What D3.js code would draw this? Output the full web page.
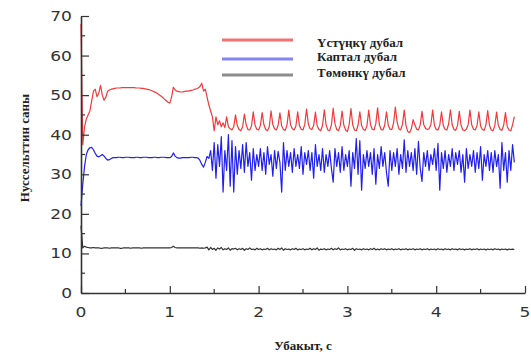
<!DOCTYPE html>
<html>
<head>
<meta charset="utf-8">
<script src="https://cdn.jsdelivr.net/npm/d3@7"></script>
<style>
html,body{margin:0;padding:0;background:#fff;}
svg{display:block;}
</style>
</head>
<body>
<svg id="chart" width="531" height="354"></svg>
<script>
// ---- data ----
const seriesNames = ["Үстүңкү дубал", "Каптал дубал", "Төмөнкү дубал"];
const xTicks = [0, 1, 2, 3, 4, 5];
const yTicks = [0, 10, 20, 30, 40, 50, 60, 70];
const xTitle = "Убакыт, с";
const yTitle = "Нуссельттин саны";
const sampleStep = 0.02; // seconds between samples

const upperWall = [
 68, 37.5, 42, 44, 45, 46, 48.5, 51, 51.5, 49.6,
 50.5, 52.5, 50, 48.7, 49.5, 51, 51.3, 51.5, 51.6, 51.7,
 51.8, 51.8, 51.8, 51.9, 51.9, 51.9, 51.9, 51.9, 51.9, 51.9,
 51.9, 51.8, 51.8, 51.8, 51.7, 51.7, 51.6, 51.5, 51.4, 51.3,
 51.1, 50.9, 50.7, 50.4, 50.1, 49.8, 49.4, 49, 48.6, 48.2,
 48, 49.5, 52, 51.3, 51, 50.9, 50.8, 50.8, 50.9, 51,
 51, 51.1, 51.2, 51.3, 51.5, 51.6, 51.8, 52.2, 53, 51,
 51.5, 49.5, 47.5, 46, 44.5, 41, 44.5, 42.5, 43.5, 42,
 43, 41.8, 44.5, 42, 41.5, 41.2, 42, 45, 42.3, 41.3,
 41, 42, 45.2, 42.5, 41.3, 41.2, 42.2, 45.8, 42.4, 41.4,
 41.2, 42.3, 45.6, 42.5, 41.3, 41, 42, 46, 42.6, 41.5,
 41.2, 42.4, 45.5, 42.2, 41.3, 41.1, 42.5, 46.2, 42.5, 41.5,
 41.2, 42.2, 45.8, 42.3, 41.4, 41.2, 42.6, 46.5, 42.7, 41.5,
 41.3, 42.3, 45.7, 42.2, 41.3, 41, 42.4, 46.3, 42.5, 41.2,
 41, 42.5, 46.7, 42.8, 41.3, 41, 42.3, 46, 42.4, 41.2,
 40.8, 42.6, 46.6, 42.5, 41.2, 41, 42.4, 45.8, 42.3, 41.3,
 41.1, 42.2, 46.2, 42.6, 41.4, 41.2, 42.8, 46.8, 42.5, 41.3,
 41.2, 42.4, 45.8, 42.4, 41.4, 41.3, 43, 47, 43.2, 41.5,
 41.2, 42.6, 46.2, 42.3, 40.8, 40.5, 41.5, 43.8, 42.5, 41.4,
 41.2, 42.5, 45.9, 42.5, 41.6, 41.3, 41.5, 42.5, 46.2, 42.4,
 41.3, 41.2, 42.4, 45.8, 42.3, 41.4, 41.2, 42.7, 46.3, 42.5,
 41.3, 41.1, 42.3, 45.9, 42.4, 41.2, 41, 41.4, 42.6, 46.2,
 42.5, 41.4, 41.2, 42.3, 45.8, 42.2, 41.3, 41.1, 42.5, 46.1,
 42.4, 41.2, 41, 42.3, 45.7, 42.3, 41.3, 41.1, 42.4, 45.6,
 42.1, 41.2, 41, 42.5, 44.6
];

const sideWall = [
 22, 27.5, 32, 35, 36.2, 36.7, 36.8, 36.2, 35.3, 34.6,
 34.4, 34.7, 35, 34.6, 34, 33.6, 33.7, 34, 34.2, 34.2,
 34.2, 34.3, 34.3, 34.2, 34.2, 34.3, 34.3, 34.3, 34.2, 34.2,
 34.2, 34.3, 34.3, 34.2, 34.2, 34.3, 34.3, 34.3, 34.2, 34.2,
 34.2, 34.3, 34.3, 34.2, 34.2, 34.3, 34.3, 34.3, 34.2, 34.2,
 34.2, 34.5, 35.4, 34.6, 34.2, 34.1, 34.1, 34.2, 34.2, 34.2,
 34.2, 34.2, 34.3, 34.3, 34.2, 34.2, 34.1, 33.5, 32.5, 31.8,
 33, 34.5, 34, 36, 31, 38, 29, 37.5, 32, 39.5,
 25.5, 36, 31, 40, 27, 38.5, 25.5, 37, 30, 36,
 31.5, 37.5, 30.5, 38, 32, 35.5, 28.5, 36.5, 31, 35,
 32, 36.5, 31, 35.5, 30, 37, 32.5, 35, 29.5, 36,
 31.5, 35.8, 33, 25.5, 38, 31, 36, 32, 35.5, 30.5,
 36.5, 32, 35, 31.5, 37, 30, 35.5, 32.5, 36, 31,
 35.5, 29, 37.5, 32, 35, 31, 36.5, 30.5, 35, 32,
 36, 31.5, 28, 36.5, 32, 35.5, 30.5, 37, 31, 35,
 32, 36, 27, 35.5, 31.5, 39, 30, 38.5, 26, 35,
 31.5, 36, 32, 35.5, 30, 36.5, 27.5, 35, 31.5, 37,
 32, 35.5, 30.5, 27, 36, 31, 35.5, 32, 36.5, 30,
 35, 31.5, 38.7, 30.5, 36, 32, 35.5, 31, 36.5, 30,
 38.3, 31.5, 28.2, 35.5, 32, 36, 31, 35, 32.5, 36.5,
 31, 37.8, 26, 35.5, 31.5, 36, 30.5, 35, 32, 36.5,
 31, 35.5, 32.5, 36, 30.5, 35, 28, 36.5, 31.5, 35,
 32, 36, 30.5, 35.5, 31.5, 37, 28.5, 35, 32, 36,
 31, 35.5, 30.5, 36, 32, 35, 26.5, 38, 31, 35.5,
 28, 36, 31, 37.5, 33
];

const lowerWall = [
 17, 11.4, 11.8, 11.6, 11.5, 11.4, 11.4, 11.5, 11.4, 11.4,
 11.4, 11.3, 11.3, 11.4, 11.4, 11.4, 11.3, 11.4, 11.4, 11.4,
 11.4, 11.4, 11.3, 11.3, 11.4, 11.4, 11.4, 11.4, 11.3, 11.4,
 11.4, 11.4, 11.4, 11.4, 11.3, 11.4, 11.4, 11.4, 11.4, 11.4,
 11.4, 11.4, 11.4, 11.4, 11.4, 11.4, 11.4, 11.4, 11.4, 11.4,
 11.4, 11.5, 11.8, 11.5, 11.4, 11.4, 11.4, 11.4, 11.4, 11.4,
 11.4, 11.4, 11.4, 11.4, 11.4, 11.4, 11.4, 11.3, 11.4, 11.3,
 11.4, 11.6, 10.9, 11.5, 11, 11.3, 10.8, 11.4, 11.1, 11.5,
 10.9, 11.2, 11, 11.4, 10.8, 11.2, 11.1, 11.3, 10.9, 11.2,
 11, 11.3, 10.8, 11.2, 11, 11.4, 11, 11.1, 10.9, 11.3,
 11, 11.2, 10.9, 11.1, 11, 11.3, 10.9, 11.2, 11, 11.1,
 10.9, 11.3, 11, 11.4, 10.8, 11.2, 11, 11.1, 10.9, 11.2,
 11, 11.3, 10.9, 11.1, 11, 11.2, 10.9, 11.1, 11, 11.3,
 10.9, 11.2, 11, 11.4, 10.8, 11.1, 11, 11.2, 10.9, 11.1,
 11, 11.3, 10.9, 11.2, 11, 11.4, 10.9, 11.1, 11, 11.2,
 10.9, 11.1, 11, 11.3, 10.8, 11.2, 11, 11.1, 10.9, 11.2,
 11, 11.1, 10.9, 11.2, 11, 11.3, 10.9, 11.1, 10.9, 11.2,
 11, 11.2, 10.9, 11.1, 11, 11.2, 10.9, 11.1, 11, 11.2,
 10.9, 11.1, 11, 11.2, 10.9, 11.1, 11, 11.2, 10.9, 11.1,
 11, 11.2, 10.9, 11.1, 11, 11.2, 10.9, 11.1, 11, 11.1,
 10.9, 11.2, 11, 11.1, 10.9, 11.2, 11, 11.1, 10.9, 11.2,
 11, 11.1, 10.9, 11.2, 11, 11.1, 10.9, 11.1, 11, 11.2,
 10.9, 11.1, 11, 11.2, 10.9, 11.1, 11, 11.1, 10.9, 11.1,
 11, 11.1, 10.9, 11.2, 11, 11.1, 10.9, 11.1, 11, 11.1,
 10.9, 11.1, 11, 11.1, 11
];

const seriesColors = ["#f23a3a", "#2020f0", "#333333"];
const legendColors = ["#f07272", "#8484f0", "#8c8c8c"];

// ---- layout ----
const svg = d3.select("#chart");
const x = d3.scaleLinear().domain([0, 5]).range([81, 525]);
const y = d3.scaleLinear().domain([0, 70]).range([293, 16]);

const series = [upperWall, sideWall, lowerWall];
const line = d3.line()
  .x((d, i) => x(i * sampleStep))
  .y(d => y(d));

series.forEach((s, k) => {
  svg.append("path")
    .datum(s)
    .attr("fill", "none")
    .attr("stroke", seriesColors[k])
    .attr("stroke-width", 1.2)
    .attr("stroke-linejoin", "round")
    .attr("d", line);
});

const axisColor = "#333";

// axis lines (D3 axes for tick positions, drawn inward)
const xAxisG = svg.append("g").attr("transform", `translate(0,${y(0)})`);
xAxisG.call(d3.axisTop(x).tickValues(xTicks).tickSizeInner(7).tickSizeOuter(0).tickFormat(""));
xAxisG.select(".domain").attr("stroke", axisColor).attr("stroke-width", 1.6);
xAxisG.selectAll(".tick line").attr("stroke", axisColor).attr("stroke-width", 1.2);

const yAxisG = svg.append("g").attr("transform", `translate(${x(0)},0)`);
yAxisG.call(d3.axisRight(y).tickValues(yTicks).tickSizeInner(8).tickSizeOuter(0).tickFormat(""));
yAxisG.select(".domain").attr("stroke", axisColor).attr("stroke-width", 1.6);
yAxisG.selectAll(".tick line").attr("stroke", axisColor).attr("stroke-width", 1.2);

// minor ticks
const xMinor = [0.5, 1.5, 2.5, 3.5, 4.5];
svg.selectAll(".xmin").data(xMinor).join("line")
  .attr("x1", d => x(d)).attr("x2", d => x(d)).attr("y1", y(0)).attr("y2", y(0) - 4)
  .attr("stroke", axisColor).attr("stroke-width", 1.2);
const yMinor = [5, 15, 25, 35, 45, 55, 65];
svg.selectAll(".ymin").data(yMinor).join("line")
  .attr("x1", x(0)).attr("x2", x(0) + 4).attr("y1", d => y(d)).attr("y2", d => y(d))
  .attr("stroke", axisColor).attr("stroke-width", 1.2);

// tick labels (wide digits as in the reference)
const tickFont = "'DejaVu Sans', sans-serif";
svg.selectAll(".xlab").data(xTicks).join("text")
  .attr("transform", d => `translate(${x(d)},${y(0) + 24}) scale(1.22,1)`)
  .attr("text-anchor", "middle")
  .attr("font-family", tickFont).attr("font-size", 14).attr("fill", "#333")
  .text(d => d);
svg.selectAll(".ylab").data(yTicks).join("text")
  .attr("transform", d => `translate(${x(0) - 9},${y(d) + 5}) scale(1.22,1)`)
  .attr("text-anchor", "end")
  .attr("font-family", tickFont).attr("font-size", 14).attr("fill", "#333")
  .text(d => d);

// axis titles
const titleFont = "'Liberation Serif', 'Times New Roman', serif";
svg.append("text")
  .attr("x", 303).attr("y", 350)
  .attr("text-anchor", "middle")
  .attr("font-family", titleFont).attr("font-weight", "bold").attr("font-size", 13)
  .attr("fill", "#222")
  .text(xTitle);
svg.append("text")
  .attr("transform", "translate(29,148) rotate(-90)")
  .attr("text-anchor", "middle")
  .attr("font-family", titleFont).attr("font-weight", "bold").attr("font-size", 13)
  .attr("fill", "#222")
  .text(yTitle);

// legend
const legendLineY = [40, 59, 75];
const legendTextY = [47, 61, 77];
seriesNames.forEach((name, k) => {
  svg.append("line")
    .attr("x1", 222).attr("x2", 293)
    .attr("y1", legendLineY[k]).attr("y2", legendLineY[k])
    .attr("stroke", legendColors[k]).attr("stroke-width", 3);
  svg.append("text")
    .attr("x", 317).attr("y", legendTextY[k])
    .attr("font-family", titleFont).attr("font-weight", "bold").attr("font-size", 13)
    .attr("fill", "#222")
    .text(name);
});
</script>
</body>
</html>
